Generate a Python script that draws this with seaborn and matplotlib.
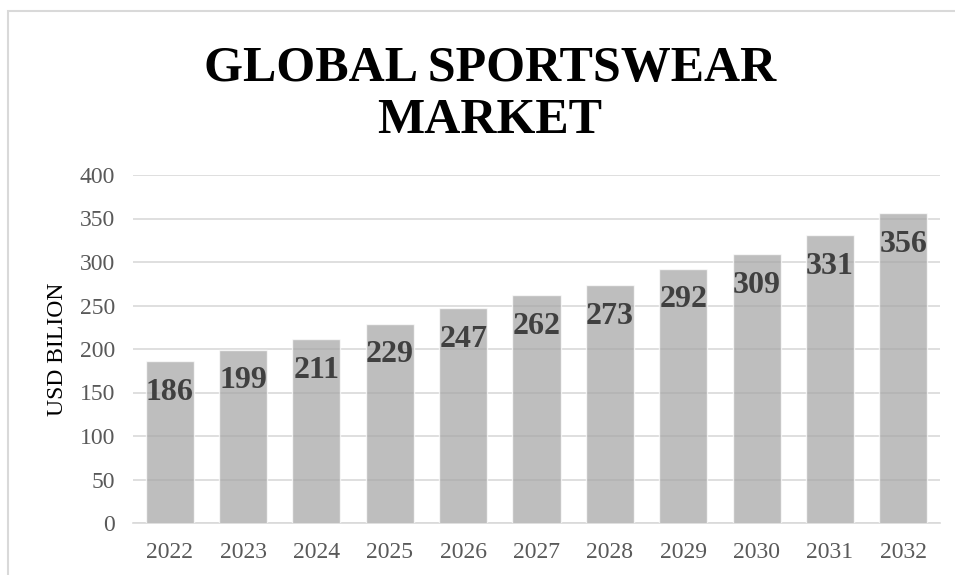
import matplotlib
matplotlib.use("Agg")
import matplotlib.pyplot as plt
import seaborn as sns
import pandas as pd
from matplotlib.patches import Rectangle

years = ["2022", "2023", "2024", "2025", "2026", "2027", "2028", "2029", "2030", "2031", "2032"]
values = [186, 199, 211, 229, 247, 262, 273, 292, 309, 331, 356]
title = "GLOBAL SPORTSWEAR\nMARKET"
ylabel = "USD BILION"

sns.set_theme(style="white")
plt.rcParams["font.family"] = ["Liberation Serif", "DejaVu Serif"]

W, H = 955, 575
fig = plt.figure(figsize=(W / 100, H / 100), dpi=100)
ax = fig.add_axes([133 / W, 1 - 523 / H, (940 - 133) / W, (523 - 175) / H])

df = pd.DataFrame({"year": years, "value": values})
sns.barplot(data=df, x="year", y="value", color="#A6A6A6", alpha=0.72,
            width=0.655, saturation=1, ax=ax, zorder=3)

ax.set_ylim(0, 400)
ax.set_yticks(range(0, 401, 50))
ax.grid(axis="y", color="#D9D9D9", linewidth=1.2, zorder=1)
ax.set_axisbelow(True)
for s in ["top", "right", "left"]:
    ax.spines[s].set_visible(False)
ax.spines["bottom"].set_color("#D9D9D9")
ax.spines["bottom"].set_linewidth(1.2)
ax.tick_params(axis="both", length=0, labelsize=17, colors="#595959")
ax.tick_params(axis="x", pad=14)
ax.tick_params(axis="y", pad=13)
ax.set_xlabel("")
ax.set_ylabel(ylabel, fontsize=17, color="#000000", labelpad=8)
ax.set_xlim(-0.5, len(years) - 0.5)

for i, v in enumerate(values):
    ax.annotate(str(v), (i, v), xytext=(0, -31), textcoords="offset pixels",
                ha="center", va="center", fontsize=23, fontweight="bold",
                color="#404040", zorder=5)

fig.text(490 / W, 1 - 95 / H, title, ha="center", va="center", fontsize=36,
         fontweight="bold", color="black", linespacing=1.15)

fig.patches.append(Rectangle((8 / W, -0.1), 1.2, 1 - 11 / H + 0.1,
                             transform=fig.transFigure, fill=False,
                             edgecolor="#D9D9D9", linewidth=1.5))

fig.savefig("out.png", dpi=100)
